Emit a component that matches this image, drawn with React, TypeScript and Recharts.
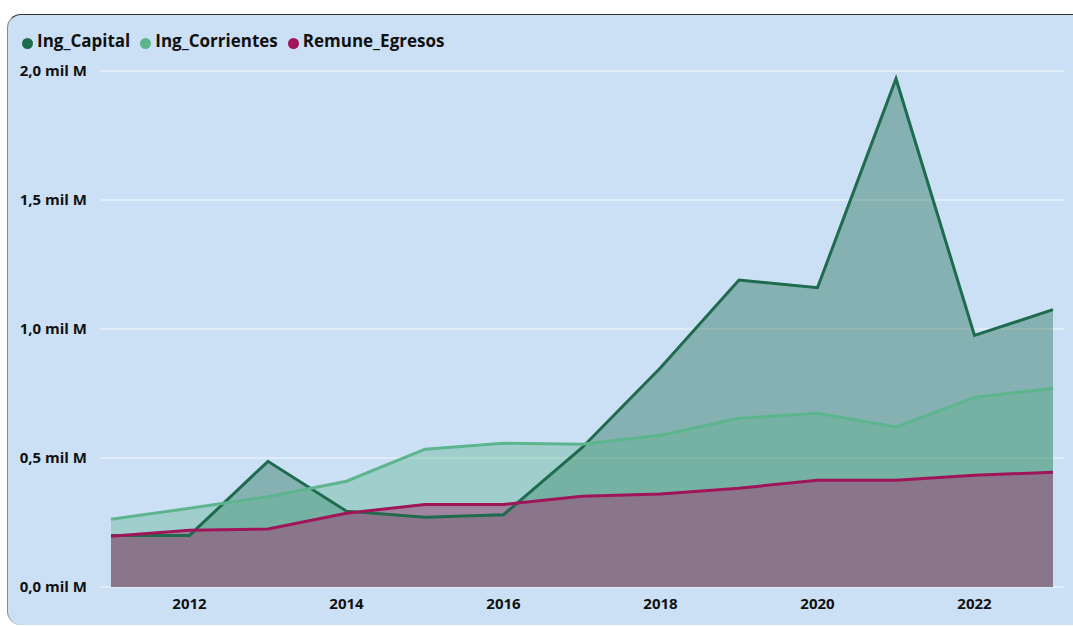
import { ComposedChart, Area, Line, XAxis, YAxis, CartesianGrid, Legend } from "recharts";

// values in "mil M"
const years = [2011, 2012, 2013, 2014, 2015, 2016, 2017, 2018, 2019, 2020, 2021, 2022, 2023];
const ingCapital = [0.2, 0.2, 0.487, 0.294, 0.27, 0.28, 0.54, 0.85, 1.19, 1.16, 1.97, 0.975, 1.075];
const ingCorrientes = [0.263, 0.305, 0.35, 0.41, 0.534, 0.557, 0.553, 0.588, 0.654, 0.673, 0.62, 0.735, 0.77];
const remuneEgresos = [0.197, 0.22, 0.225, 0.286, 0.32, 0.32, 0.352, 0.36, 0.383, 0.414, 0.414, 0.433, 0.445];
const xTicks = [2012, 2014, 2016, 2018, 2020, 2022];
const yTicks = [0, 0.5, 1, 1.5, 2];

const data = years.map((year, i) => ({
  year,
  Ing_Capital: ingCapital[i],
  Ing_Corrientes: ingCorrientes[i],
  Remune_Egresos: remuneEgresos[i],
}));

const font = "'Open Sans', 'Segoe UI', sans-serif";
const tickStyle = { fontFamily: font, fontSize: 15, fontWeight: 700, fill: "#111" };

const fmtY = (v: number) => v.toFixed(1).replace(".", ",") + " mil M";

export default function App() {
  return (
    <div style={{ position: "absolute", left: 0, top: 0, width: 1073, height: 626, background: "#fff", overflow: "hidden" }}>
      <div
        style={{
          position: "absolute",
          left: 7,
          top: 14,
          width: 1090,
          height: 610,
          background: "#cce0f5",
          borderTop: "1px solid #333",
          borderLeft: "1px solid #888",
          borderTopLeftRadius: 14,
          borderBottomLeftRadius: 14,
        }}
      />
      <div style={{ position: "absolute", left: 0, top: 0 }}>
        <ComposedChart width={1073} height={626} data={data} margin={{ top: 48, right: 9, bottom: 9, left: 0 }}>
          <CartesianGrid vertical={false} stroke="#e9f0fa" strokeWidth={1.5} />
          <XAxis
            dataKey="year"
            type="number"
            domain={[2011, 2023]}
            ticks={xTicks}
            padding={{ left: 11, right: 11 }}
            tickLine={false}
            axisLine={false}
            tickMargin={5}
            height={30}
            tick={tickStyle}
          />
          <YAxis
            domain={[0, 2]}
            ticks={yTicks}
            tickFormatter={fmtY}
            tickLine={false}
            axisLine={false}
            tickMargin={7}
            width={100}
            tick={tickStyle}
          />
          <Legend
            verticalAlign="top"
            align="left"
            iconType="circle"
            iconSize={11}
            wrapperStyle={{ top: 29, left: 22 }}
            formatter={(value: string) => (
              <span style={{ color: "#111", fontFamily: font, fontWeight: 700, fontSize: 17 }}>{value}</span>
            )}
          />
          <Area dataKey="Ing_Capital" type="linear" stroke="none" fill="#1e6b4e" fillOpacity={0.4} legendType="none" isAnimationActive={false} />
          <Area dataKey="Ing_Corrientes" type="linear" stroke="none" fill="#5db58e" fillOpacity={0.4} legendType="none" isAnimationActive={false} />
          <Area dataKey="Remune_Egresos" type="linear" stroke="none" fill="#9d3970" fillOpacity={0.5} legendType="none" isAnimationActive={false} />
          <Line dataKey="Ing_Capital" type="linear" stroke="#1e6b4e" strokeWidth={3} dot={false} isAnimationActive={false} />
          <Line dataKey="Ing_Corrientes" type="linear" stroke="#5db58e" strokeWidth={3} dot={false} isAnimationActive={false} />
          <Line dataKey="Remune_Egresos" type="linear" stroke="#a0155a" strokeWidth={3} dot={false} isAnimationActive={false} />
        </ComposedChart>
      </div>
    </div>
  );
}
